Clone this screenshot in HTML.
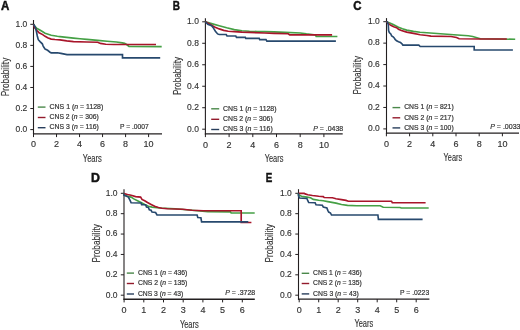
<!DOCTYPE html>
<html><head><meta charset="utf-8"><style>
html,body{margin:0;padding:0;background:#fff;}
body{width:520px;height:330px;overflow:hidden;}
svg{display:block;font-family:"Liberation Sans", sans-serif;will-change:transform;}
text{stroke:#333;stroke-width:0.15px;}
text.b{stroke:#111;stroke-width:0.45px;}
text.s{stroke-width:0.2px;}
</style></head><body>
<svg width="520" height="330" viewBox="0 0 520 330">
<rect width="520" height="330" fill="#fff"/>
<text transform="translate(0.9,10.3) scale(0.97,1)" x="0" y="0" font-size="11.9" font-weight="bold" fill="#111" class="b">A</text>
<line x1="33.5" y1="20" x2="33.5" y2="134.5" stroke="#231f20" stroke-width="1.1"/>
<line x1="32.95" y1="133.9" x2="162" y2="133.9" stroke="#231f20" stroke-width="1.4"/>
<line x1="30.3" y1="129.6" x2="33.5" y2="129.6" stroke="#231f20" stroke-width="1"/>
<text x="27.3" y="131.95" text-anchor="end" font-size="9.2" fill="#333" textLength="11.8" lengthAdjust="spacingAndGlyphs">0.0</text>
<line x1="30.3" y1="108.54" x2="33.5" y2="108.54" stroke="#231f20" stroke-width="1"/>
<text x="27.3" y="110.89" text-anchor="end" font-size="9.2" fill="#333" textLength="11.8" lengthAdjust="spacingAndGlyphs">0.2</text>
<line x1="30.3" y1="87.48" x2="33.5" y2="87.48" stroke="#231f20" stroke-width="1"/>
<text x="27.3" y="89.83" text-anchor="end" font-size="9.2" fill="#333" textLength="11.8" lengthAdjust="spacingAndGlyphs">0.4</text>
<line x1="30.3" y1="66.42" x2="33.5" y2="66.42" stroke="#231f20" stroke-width="1"/>
<text x="27.3" y="68.77" text-anchor="end" font-size="9.2" fill="#333" textLength="11.8" lengthAdjust="spacingAndGlyphs">0.6</text>
<line x1="30.3" y1="45.36" x2="33.5" y2="45.36" stroke="#231f20" stroke-width="1"/>
<text x="27.3" y="47.71" text-anchor="end" font-size="9.2" fill="#333" textLength="11.8" lengthAdjust="spacingAndGlyphs">0.8</text>
<line x1="30.3" y1="24.3" x2="33.5" y2="24.3" stroke="#231f20" stroke-width="1"/>
<text x="27.3" y="26.65" text-anchor="end" font-size="9.2" fill="#333" textLength="11.8" lengthAdjust="spacingAndGlyphs">1.0</text>
<line x1="33.5" y1="133.9" x2="33.5" y2="137.1" stroke="#231f20" stroke-width="1"/>
<text x="33.5" y="147.4" text-anchor="middle" font-size="9" fill="#333">0</text>
<line x1="56.52" y1="133.9" x2="56.52" y2="137.1" stroke="#231f20" stroke-width="1"/>
<text x="56.52" y="147.4" text-anchor="middle" font-size="9" fill="#333">2</text>
<line x1="79.54" y1="133.9" x2="79.54" y2="137.1" stroke="#231f20" stroke-width="1"/>
<text x="79.54" y="147.4" text-anchor="middle" font-size="9" fill="#333">4</text>
<line x1="102.56" y1="133.9" x2="102.56" y2="137.1" stroke="#231f20" stroke-width="1"/>
<text x="102.56" y="147.4" text-anchor="middle" font-size="9" fill="#333">6</text>
<line x1="125.58" y1="133.9" x2="125.58" y2="137.1" stroke="#231f20" stroke-width="1"/>
<text x="125.58" y="147.4" text-anchor="middle" font-size="9" fill="#333">8</text>
<line x1="148.6" y1="133.9" x2="148.6" y2="137.1" stroke="#231f20" stroke-width="1"/>
<text x="148.6" y="147.4" text-anchor="middle" font-size="9" fill="#333">10</text>
<text x="82.8" y="162.2" font-size="10.2" fill="#333" textLength="19" lengthAdjust="spacingAndGlyphs">Years</text>
<text transform="translate(8.7,96.3) rotate(-90)" x="0" y="0" font-size="11" fill="#333" textLength="38.6" lengthAdjust="spacingAndGlyphs">Probability</text>
<line x1="37.8" y1="107.1" x2="45.5" y2="107.1" stroke="#4a884a" stroke-width="1.4"/>
<text x="49.6" y="108.8" font-size="7" fill="#333" class="s" textLength="53.7" lengthAdjust="spacingAndGlyphs">CNS 1 (<tspan font-style="italic">n</tspan> = 1128)</text>
<line x1="37.8" y1="117.5" x2="45.5" y2="117.5" stroke="#931a2c" stroke-width="1.4"/>
<text x="49.6" y="119.2" font-size="7" fill="#333" class="s" textLength="49.2" lengthAdjust="spacingAndGlyphs">CNS 2 (<tspan font-style="italic">n</tspan> = 306)</text>
<line x1="37.8" y1="127.7" x2="45.5" y2="127.7" stroke="#283e5c" stroke-width="1.4"/>
<text x="49.6" y="129.4" font-size="7" fill="#333" class="s" textLength="49.2" lengthAdjust="spacingAndGlyphs">CNS 3 (<tspan font-style="italic">n</tspan> = 116)</text>
<text x="120" y="128.8" font-size="7" fill="#333" class="s" textLength="28.8" lengthAdjust="spacingAndGlyphs">P = .0007</text>
<polyline points="33.5,24.3 34.5,25.8 36.6,28.3 40.3,30.3 45.1,33.2 51.2,35.2 57.3,36.3 60,36.6 66.7,37.4 73.5,38.1 80,38.8 86.9,39.4 97.7,40.4 107.1,41.3 116.5,42 122.3,42.9 124.6,43.4 127,44.8 129,46.5 161.7,46.6" fill="none" stroke="#45a045" stroke-width="1.65" stroke-linejoin="miter"/>
<polyline points="33.5,24.3 34.6,27.6 36.6,30.3 39.1,32.7 42.7,34.6 45.1,36.3 47.6,37.8 51.2,39.1 55,39.5 60,39.9 66.7,40.9 73.5,41.6 86.9,42 97.7,42.3 100.4,43.4 105.8,44.2 113.8,44.5 156,44.5" fill="none" stroke="#a8152a" stroke-width="1.65" stroke-linejoin="miter"/>
<polyline points="33.5,24.3 35.4,27.3 36.3,31 37.3,36 38.3,39.7 40.3,41.8 42.3,43.8 43.2,46.1 43.9,47.3 45.1,49.1 47.6,50.3 50,52.2 51.2,52.8 57.3,52.8 60.9,53.4 67,54.6 122.5,54.6 122.5,57.9 160.2,57.9" fill="none" stroke="#27496e" stroke-width="1.65" stroke-linejoin="miter"/>
<text transform="translate(172.7,10.3) scale(0.84,1)" x="0" y="0" font-size="11.9" font-weight="bold" fill="#111" class="b">B</text>
<line x1="205.4" y1="18.2" x2="205.4" y2="134.5" stroke="#231f20" stroke-width="1.1"/>
<line x1="204.85" y1="133.9" x2="342.7" y2="133.9" stroke="#231f20" stroke-width="1.4"/>
<line x1="202.2" y1="129.2" x2="205.4" y2="129.2" stroke="#231f20" stroke-width="1"/>
<text x="198.9" y="131.55" text-anchor="end" font-size="9.2" fill="#333" textLength="11.8" lengthAdjust="spacingAndGlyphs">0.0</text>
<line x1="202.2" y1="107.72" x2="205.4" y2="107.72" stroke="#231f20" stroke-width="1"/>
<text x="198.9" y="110.07" text-anchor="end" font-size="9.2" fill="#333" textLength="11.8" lengthAdjust="spacingAndGlyphs">0.2</text>
<line x1="202.2" y1="86.24" x2="205.4" y2="86.24" stroke="#231f20" stroke-width="1"/>
<text x="198.9" y="88.59" text-anchor="end" font-size="9.2" fill="#333" textLength="11.8" lengthAdjust="spacingAndGlyphs">0.4</text>
<line x1="202.2" y1="64.76" x2="205.4" y2="64.76" stroke="#231f20" stroke-width="1"/>
<text x="198.9" y="67.11" text-anchor="end" font-size="9.2" fill="#333" textLength="11.8" lengthAdjust="spacingAndGlyphs">0.6</text>
<line x1="202.2" y1="43.28" x2="205.4" y2="43.28" stroke="#231f20" stroke-width="1"/>
<text x="198.9" y="45.63" text-anchor="end" font-size="9.2" fill="#333" textLength="11.8" lengthAdjust="spacingAndGlyphs">0.8</text>
<line x1="202.2" y1="21.8" x2="205.4" y2="21.8" stroke="#231f20" stroke-width="1"/>
<text x="198.9" y="24.15" text-anchor="end" font-size="9.2" fill="#333" textLength="11.8" lengthAdjust="spacingAndGlyphs">1.0</text>
<line x1="205.4" y1="133.9" x2="205.4" y2="137.1" stroke="#231f20" stroke-width="1"/>
<text x="205.4" y="147.6" text-anchor="middle" font-size="9" fill="#333">0</text>
<line x1="229.1" y1="133.9" x2="229.1" y2="137.1" stroke="#231f20" stroke-width="1"/>
<text x="229.1" y="147.6" text-anchor="middle" font-size="9" fill="#333">2</text>
<line x1="252.8" y1="133.9" x2="252.8" y2="137.1" stroke="#231f20" stroke-width="1"/>
<text x="252.8" y="147.6" text-anchor="middle" font-size="9" fill="#333">4</text>
<line x1="276.5" y1="133.9" x2="276.5" y2="137.1" stroke="#231f20" stroke-width="1"/>
<text x="276.5" y="147.6" text-anchor="middle" font-size="9" fill="#333">6</text>
<line x1="300.2" y1="133.9" x2="300.2" y2="137.1" stroke="#231f20" stroke-width="1"/>
<text x="300.2" y="147.6" text-anchor="middle" font-size="9" fill="#333">8</text>
<line x1="323.9" y1="133.9" x2="323.9" y2="137.1" stroke="#231f20" stroke-width="1"/>
<text x="323.9" y="147.6" text-anchor="middle" font-size="9" fill="#333">10</text>
<text x="264.7" y="162.2" font-size="10.2" fill="#333" textLength="18.7" lengthAdjust="spacingAndGlyphs">Years</text>
<text transform="translate(180.5,95.1) rotate(-90)" x="0" y="0" font-size="11" fill="#333" textLength="38.2" lengthAdjust="spacingAndGlyphs">Probability</text>
<line x1="211.2" y1="108.8" x2="219.2" y2="108.8" stroke="#4a884a" stroke-width="1.4"/>
<text x="223" y="110.5" font-size="7" fill="#333" class="s" textLength="53.5" lengthAdjust="spacingAndGlyphs">CNS 1 (<tspan font-style="italic">n</tspan> = 1128)</text>
<line x1="211.2" y1="119.3" x2="219.2" y2="119.3" stroke="#931a2c" stroke-width="1.4"/>
<text x="223" y="121" font-size="7" fill="#333" class="s" textLength="49.7" lengthAdjust="spacingAndGlyphs">CNS 2 (<tspan font-style="italic">n</tspan> = 306)</text>
<line x1="211.2" y1="129.5" x2="219.2" y2="129.5" stroke="#283e5c" stroke-width="1.4"/>
<text x="223" y="131.2" font-size="7" fill="#333" class="s" textLength="49.7" lengthAdjust="spacingAndGlyphs">CNS 3 (<tspan font-style="italic">n</tspan> = 116)</text>
<text x="313.2" y="130.8" font-size="7" fill="#333" class="s" textLength="30" lengthAdjust="spacingAndGlyphs"><tspan font-style="italic">P</tspan> = .0438</text>
<polyline points="205.4,21.8 211.6,23.6 219.2,25.8 226.7,27.8 234.3,29.6 241.9,30.7 249.5,31.2 257,31.5 264.6,31.6 274,31.9 285.2,32.4 300.3,33 306.4,33.9 315.5,34.9 316.2,36.5 337.4,36.5" fill="none" stroke="#45a045" stroke-width="1.65" stroke-linejoin="miter"/>
<polyline points="205.4,21.8 210,24.3 214.6,26.9 219.2,28.9 223.7,30.4 228.2,31.2 234.3,31.6 241.9,32.1 249.5,32.4 264.6,33 274,33.4 288.2,33.8 289.7,34.9 332.1,34.9" fill="none" stroke="#a8152a" stroke-width="1.65" stroke-linejoin="miter"/>
<polyline points="205.4,21.8 207.8,24.3 211.6,25.8 213,27.4 215.4,31.2 217.6,33.9 219.2,34.5 226.2,34.5 227,36 235.8,36 236.5,37.3 245.3,37.3 245.8,38.4 259.2,38.4 259.7,39.6 266,39.6 266.9,41.1 335.9,41.1" fill="none" stroke="#27496e" stroke-width="1.65" stroke-linejoin="miter"/>
<text transform="translate(353.31,10.2) scale(0.96,1)" x="0" y="0" font-size="11.9" font-weight="bold" fill="#111" class="b">C</text>
<line x1="386.5" y1="18.1" x2="386.5" y2="133.7" stroke="#231f20" stroke-width="1.1"/>
<line x1="385.95" y1="133.1" x2="519" y2="133.1" stroke="#231f20" stroke-width="1.4"/>
<line x1="383.3" y1="128.9" x2="386.5" y2="128.9" stroke="#231f20" stroke-width="1"/>
<text x="379.8" y="131.25" text-anchor="end" font-size="9.2" fill="#333" textLength="11.8" lengthAdjust="spacingAndGlyphs">0.0</text>
<line x1="383.3" y1="107.46" x2="386.5" y2="107.46" stroke="#231f20" stroke-width="1"/>
<text x="379.8" y="109.81" text-anchor="end" font-size="9.2" fill="#333" textLength="11.8" lengthAdjust="spacingAndGlyphs">0.2</text>
<line x1="383.3" y1="86.02" x2="386.5" y2="86.02" stroke="#231f20" stroke-width="1"/>
<text x="379.8" y="88.37" text-anchor="end" font-size="9.2" fill="#333" textLength="11.8" lengthAdjust="spacingAndGlyphs">0.4</text>
<line x1="383.3" y1="64.58" x2="386.5" y2="64.58" stroke="#231f20" stroke-width="1"/>
<text x="379.8" y="66.93" text-anchor="end" font-size="9.2" fill="#333" textLength="11.8" lengthAdjust="spacingAndGlyphs">0.6</text>
<line x1="383.3" y1="43.14" x2="386.5" y2="43.14" stroke="#231f20" stroke-width="1"/>
<text x="379.8" y="45.49" text-anchor="end" font-size="9.2" fill="#333" textLength="11.8" lengthAdjust="spacingAndGlyphs">0.8</text>
<line x1="383.3" y1="21.7" x2="386.5" y2="21.7" stroke="#231f20" stroke-width="1"/>
<text x="379.8" y="24.05" text-anchor="end" font-size="9.2" fill="#333" textLength="11.8" lengthAdjust="spacingAndGlyphs">1.0</text>
<line x1="386.4" y1="133.1" x2="386.4" y2="136.3" stroke="#231f20" stroke-width="1"/>
<text x="386.4" y="146.8" text-anchor="middle" font-size="9" fill="#333">0</text>
<line x1="409.6" y1="133.1" x2="409.6" y2="136.3" stroke="#231f20" stroke-width="1"/>
<text x="409.6" y="146.8" text-anchor="middle" font-size="9" fill="#333">2</text>
<line x1="432.8" y1="133.1" x2="432.8" y2="136.3" stroke="#231f20" stroke-width="1"/>
<text x="432.8" y="146.8" text-anchor="middle" font-size="9" fill="#333">4</text>
<line x1="456" y1="133.1" x2="456" y2="136.3" stroke="#231f20" stroke-width="1"/>
<text x="456" y="146.8" text-anchor="middle" font-size="9" fill="#333">6</text>
<line x1="479.2" y1="133.1" x2="479.2" y2="136.3" stroke="#231f20" stroke-width="1"/>
<text x="479.2" y="146.8" text-anchor="middle" font-size="9" fill="#333">8</text>
<line x1="502.4" y1="133.1" x2="502.4" y2="136.3" stroke="#231f20" stroke-width="1"/>
<text x="502.4" y="146.8" text-anchor="middle" font-size="9" fill="#333">10</text>
<text x="443.6" y="161.3" font-size="10.2" fill="#333" textLength="18.5" lengthAdjust="spacingAndGlyphs">Years</text>
<text transform="translate(361.3,94.4) rotate(-90)" x="0" y="0" font-size="11" fill="#333" textLength="38.5" lengthAdjust="spacingAndGlyphs">Probability</text>
<line x1="392.5" y1="107.6" x2="400.2" y2="107.6" stroke="#4a884a" stroke-width="1.4"/>
<text x="404.2" y="109.3" font-size="7" fill="#333" class="s" textLength="49.5" lengthAdjust="spacingAndGlyphs">CNS 1 (<tspan font-style="italic">n</tspan> = 821)</text>
<line x1="392.5" y1="117.8" x2="400.2" y2="117.8" stroke="#931a2c" stroke-width="1.4"/>
<text x="404.2" y="119.5" font-size="7" fill="#333" class="s" textLength="49.5" lengthAdjust="spacingAndGlyphs">CNS 2 (<tspan font-style="italic">n</tspan> = 217)</text>
<line x1="392.5" y1="127.9" x2="400.2" y2="127.9" stroke="#283e5c" stroke-width="1.4"/>
<text x="404.2" y="129.6" font-size="7" fill="#333" class="s" textLength="49.5" lengthAdjust="spacingAndGlyphs">CNS 3 (<tspan font-style="italic">n</tspan> = 100)</text>
<text x="490.2" y="129.4" font-size="7" fill="#333" class="s" textLength="30.3" lengthAdjust="spacingAndGlyphs"><tspan font-style="italic">P</tspan> = .0033</text>
<polyline points="386.4,21.7 389.8,22.9 392.7,24.3 395.6,25.8 398.5,27.2 402.4,28.7 406.7,30.1 413.5,31.4 420,32.2 426.9,32.8 440.4,33.8 453.8,34.8 468.2,35.8 472.7,36.5 480.3,38.7 515.2,39.3" fill="none" stroke="#45a045" stroke-width="1.65" stroke-linejoin="miter"/>
<polyline points="386.4,21.7 388.8,23.8 390.8,25.3 393.7,26.7 396.6,27.7 398.5,29.2 401.4,30.6 406.7,32.1 413.5,33.4 420.2,34.8 426.9,35.5 431,36.1 451.1,36.5 456.5,37.5 459.2,38.8 480.3,39 506.8,39" fill="none" stroke="#a8152a" stroke-width="1.65" stroke-linejoin="miter"/>
<polyline points="386.4,21.7 387.4,21.9 388.3,24.8 388.6,30.6 389.3,32.6 390.8,34 391.7,36 393.2,36.9 394.2,37.9 395.1,39.4 396.6,40.8 398.5,41.8 400.5,42.5 401.9,43.7 402.9,45.1 418.8,45.1 420.2,46.5 474.2,46.5 474.2,50 512.9,50" fill="none" stroke="#27496e" stroke-width="1.65" stroke-linejoin="miter"/>
<text transform="translate(90.88,182) scale(1.04,1)" x="0" y="0" font-size="11.9" font-weight="bold" fill="#111" class="b">D</text>
<line x1="124" y1="189.2" x2="124" y2="299.8" stroke="#231f20" stroke-width="1.1"/>
<line x1="123.45" y1="299.2" x2="254.8" y2="299.2" stroke="#231f20" stroke-width="1.4"/>
<line x1="120.8" y1="295.2" x2="124" y2="295.2" stroke="#231f20" stroke-width="1"/>
<text x="117.6" y="297.55" text-anchor="end" font-size="9.2" fill="#333" textLength="11.8" lengthAdjust="spacingAndGlyphs">0.0</text>
<line x1="120.8" y1="274.82" x2="124" y2="274.82" stroke="#231f20" stroke-width="1"/>
<text x="117.6" y="277.17" text-anchor="end" font-size="9.2" fill="#333" textLength="11.8" lengthAdjust="spacingAndGlyphs">0.2</text>
<line x1="120.8" y1="254.44" x2="124" y2="254.44" stroke="#231f20" stroke-width="1"/>
<text x="117.6" y="256.79" text-anchor="end" font-size="9.2" fill="#333" textLength="11.8" lengthAdjust="spacingAndGlyphs">0.4</text>
<line x1="120.8" y1="234.06" x2="124" y2="234.06" stroke="#231f20" stroke-width="1"/>
<text x="117.6" y="236.41" text-anchor="end" font-size="9.2" fill="#333" textLength="11.8" lengthAdjust="spacingAndGlyphs">0.6</text>
<line x1="120.8" y1="213.68" x2="124" y2="213.68" stroke="#231f20" stroke-width="1"/>
<text x="117.6" y="216.03" text-anchor="end" font-size="9.2" fill="#333" textLength="11.8" lengthAdjust="spacingAndGlyphs">0.8</text>
<line x1="120.8" y1="193.3" x2="124" y2="193.3" stroke="#231f20" stroke-width="1"/>
<text x="117.6" y="195.65" text-anchor="end" font-size="9.2" fill="#333" textLength="11.8" lengthAdjust="spacingAndGlyphs">1.0</text>
<line x1="124.1" y1="299.2" x2="124.1" y2="302.4" stroke="#231f20" stroke-width="1"/>
<text x="124.1" y="312.8" text-anchor="middle" font-size="9" fill="#333">0</text>
<line x1="143.8" y1="299.2" x2="143.8" y2="302.4" stroke="#231f20" stroke-width="1"/>
<text x="143.8" y="312.8" text-anchor="middle" font-size="9" fill="#333">1</text>
<line x1="163.5" y1="299.2" x2="163.5" y2="302.4" stroke="#231f20" stroke-width="1"/>
<text x="163.5" y="312.8" text-anchor="middle" font-size="9" fill="#333">2</text>
<line x1="183.2" y1="299.2" x2="183.2" y2="302.4" stroke="#231f20" stroke-width="1"/>
<text x="183.2" y="312.8" text-anchor="middle" font-size="9" fill="#333">3</text>
<line x1="202.9" y1="299.2" x2="202.9" y2="302.4" stroke="#231f20" stroke-width="1"/>
<text x="202.9" y="312.8" text-anchor="middle" font-size="9" fill="#333">4</text>
<line x1="222.6" y1="299.2" x2="222.6" y2="302.4" stroke="#231f20" stroke-width="1"/>
<text x="222.6" y="312.8" text-anchor="middle" font-size="9" fill="#333">5</text>
<line x1="242.3" y1="299.2" x2="242.3" y2="302.4" stroke="#231f20" stroke-width="1"/>
<text x="242.3" y="312.8" text-anchor="middle" font-size="9" fill="#333">6</text>
<text x="179.9" y="327.7" font-size="10.2" fill="#333" textLength="18.9" lengthAdjust="spacingAndGlyphs">Years</text>
<text transform="translate(99.7,262.4) rotate(-90)" x="0" y="0" font-size="11" fill="#333" textLength="38.2" lengthAdjust="spacingAndGlyphs">Probability</text>
<line x1="126.8" y1="273.1" x2="134" y2="273.1" stroke="#4a884a" stroke-width="1.4"/>
<text x="138" y="274.8" font-size="7" fill="#333" class="s" textLength="49.4" lengthAdjust="spacingAndGlyphs">CNS 1 (<tspan font-style="italic">n</tspan> = 436)</text>
<line x1="126.8" y1="283.5" x2="134" y2="283.5" stroke="#931a2c" stroke-width="1.4"/>
<text x="138" y="285.2" font-size="7" fill="#333" class="s" textLength="49.4" lengthAdjust="spacingAndGlyphs">CNS 2 (<tspan font-style="italic">n</tspan> = 135)</text>
<line x1="126.8" y1="294" x2="134" y2="294" stroke="#283e5c" stroke-width="1.4"/>
<text x="138" y="295.7" font-size="7" fill="#333" class="s" textLength="45.2" lengthAdjust="spacingAndGlyphs">CNS 3 (<tspan font-style="italic">n</tspan> = 43)</text>
<text x="225.2" y="294.9" font-size="7" fill="#333" class="s" textLength="30" lengthAdjust="spacingAndGlyphs"><tspan font-style="italic">P</tspan> = .3728</text>
<polyline points="124,193.5 124,194.4 127.5,196.2 131.1,197.1 133.8,198.9 137.5,200.7 141.1,202.5 144.7,204.4 148.4,206.2 152,207.1 159.9,208 175,208.8 192,210.3 207.7,211.6 230.4,211.9 231.2,213 254.7,213" fill="none" stroke="#45a045" stroke-width="1.65" stroke-linejoin="miter"/>
<polyline points="124,193.5 127.5,194.5 131.1,195.3 135.6,196.6 140.6,197.1 142,199.4 144.7,200.7 147.5,202.5 151.1,204.4 154.7,206.2 158.4,207.5 162,208.2 167.5,208.7 175,209 182.6,209.2 192,210.2 203.2,210.7 241.2,210.7 241.2,222.5 251.4,222.5" fill="none" stroke="#a8152a" stroke-width="1.65" stroke-linejoin="miter"/>
<polyline points="124,193.5 124,195.3 128.4,197.1 130.2,200.7 131.1,202.8 141.1,203 141.6,204.6 145.6,204.8 146.5,207.1 148.4,207.5 149.3,209.8 151.1,210.3 152,212.1 155.6,212.5 157,215 197.1,215 197.8,217.5 200.9,217.8 201.6,221.8 248.3,221.8" fill="none" stroke="#27496e" stroke-width="1.65" stroke-linejoin="miter"/>
<text transform="translate(265.71,182.3) scale(0.82,1)" x="0" y="0" font-size="11.9" font-weight="bold" fill="#111" class="b">E</text>
<line x1="298.5" y1="189.2" x2="298.5" y2="299.7" stroke="#231f20" stroke-width="1.1"/>
<line x1="297.95" y1="299.1" x2="429.4" y2="299.1" stroke="#231f20" stroke-width="1.4"/>
<line x1="295.3" y1="295.2" x2="298.5" y2="295.2" stroke="#231f20" stroke-width="1"/>
<text x="291.8" y="297.55" text-anchor="end" font-size="9.2" fill="#333" textLength="11.8" lengthAdjust="spacingAndGlyphs">0.0</text>
<line x1="295.3" y1="274.82" x2="298.5" y2="274.82" stroke="#231f20" stroke-width="1"/>
<text x="291.8" y="277.17" text-anchor="end" font-size="9.2" fill="#333" textLength="11.8" lengthAdjust="spacingAndGlyphs">0.2</text>
<line x1="295.3" y1="254.44" x2="298.5" y2="254.44" stroke="#231f20" stroke-width="1"/>
<text x="291.8" y="256.79" text-anchor="end" font-size="9.2" fill="#333" textLength="11.8" lengthAdjust="spacingAndGlyphs">0.4</text>
<line x1="295.3" y1="234.06" x2="298.5" y2="234.06" stroke="#231f20" stroke-width="1"/>
<text x="291.8" y="236.41" text-anchor="end" font-size="9.2" fill="#333" textLength="11.8" lengthAdjust="spacingAndGlyphs">0.6</text>
<line x1="295.3" y1="213.68" x2="298.5" y2="213.68" stroke="#231f20" stroke-width="1"/>
<text x="291.8" y="216.03" text-anchor="end" font-size="9.2" fill="#333" textLength="11.8" lengthAdjust="spacingAndGlyphs">0.8</text>
<line x1="295.3" y1="193.3" x2="298.5" y2="193.3" stroke="#231f20" stroke-width="1"/>
<text x="291.8" y="195.65" text-anchor="end" font-size="9.2" fill="#333" textLength="11.8" lengthAdjust="spacingAndGlyphs">1.0</text>
<line x1="299.2" y1="299.1" x2="299.2" y2="302.3" stroke="#231f20" stroke-width="1"/>
<text x="299.2" y="312.8" text-anchor="middle" font-size="9" fill="#333">0</text>
<line x1="318.7" y1="299.1" x2="318.7" y2="302.3" stroke="#231f20" stroke-width="1"/>
<text x="318.7" y="312.8" text-anchor="middle" font-size="9" fill="#333">1</text>
<line x1="338.2" y1="299.1" x2="338.2" y2="302.3" stroke="#231f20" stroke-width="1"/>
<text x="338.2" y="312.8" text-anchor="middle" font-size="9" fill="#333">2</text>
<line x1="357.7" y1="299.1" x2="357.7" y2="302.3" stroke="#231f20" stroke-width="1"/>
<text x="357.7" y="312.8" text-anchor="middle" font-size="9" fill="#333">3</text>
<line x1="377.2" y1="299.1" x2="377.2" y2="302.3" stroke="#231f20" stroke-width="1"/>
<text x="377.2" y="312.8" text-anchor="middle" font-size="9" fill="#333">4</text>
<line x1="396.7" y1="299.1" x2="396.7" y2="302.3" stroke="#231f20" stroke-width="1"/>
<text x="396.7" y="312.8" text-anchor="middle" font-size="9" fill="#333">5</text>
<line x1="416.2" y1="299.1" x2="416.2" y2="302.3" stroke="#231f20" stroke-width="1"/>
<text x="416.2" y="312.8" text-anchor="middle" font-size="9" fill="#333">6</text>
<text x="354.4" y="327.2" font-size="10.2" fill="#333" textLength="18.8" lengthAdjust="spacingAndGlyphs">Years</text>
<text transform="translate(273.3,262.4) rotate(-90)" x="0" y="0" font-size="11" fill="#333" textLength="38.2" lengthAdjust="spacingAndGlyphs">Probability</text>
<line x1="301.7" y1="273.3" x2="309.2" y2="273.3" stroke="#4a884a" stroke-width="1.4"/>
<text x="313.1" y="275" font-size="7" fill="#333" class="s" textLength="48.7" lengthAdjust="spacingAndGlyphs">CNS 1 (<tspan font-style="italic">n</tspan> = 436)</text>
<line x1="301.7" y1="283.5" x2="309.2" y2="283.5" stroke="#931a2c" stroke-width="1.4"/>
<text x="313.1" y="285.2" font-size="7" fill="#333" class="s" textLength="48.7" lengthAdjust="spacingAndGlyphs">CNS 2 (<tspan font-style="italic">n</tspan> = 135)</text>
<line x1="301.7" y1="293.9" x2="309.2" y2="293.9" stroke="#283e5c" stroke-width="1.4"/>
<text x="313.1" y="295.6" font-size="7" fill="#333" class="s" textLength="45.7" lengthAdjust="spacingAndGlyphs">CNS 3 (<tspan font-style="italic">n</tspan> = 43)</text>
<text x="400" y="295" font-size="7" fill="#333" class="s" textLength="29.2" lengthAdjust="spacingAndGlyphs">P = .0223</text>
<polyline points="298.5,193.3 298.5,194.8 301.5,196.2 306.9,197.1 310.5,197.8 313.3,199.4 318.7,200.3 323.3,200.7 327.8,201.6 336,203.1 341.5,204.5 347.5,205.4 356.6,205.7 380.2,205.7 383.2,207.2 399.9,207.5 401.4,208 428.7,208" fill="none" stroke="#45a045" stroke-width="1.65" stroke-linejoin="miter"/>
<polyline points="298.5,193.3 304.2,193.3 305.1,193.9 307.8,194.8 312.4,195.5 318.7,196.2 323.3,196.6 324.2,197.5 332.4,197.8 336,198.7 341.5,199.6 346,200.4 348.3,201.2 391.5,201.2 392.3,202.7 425.6,202.7" fill="none" stroke="#a8152a" stroke-width="1.65" stroke-linejoin="miter"/>
<polyline points="298.5,193.3 298.5,195.7 299.6,198 306.9,198.5 307.8,200.7 308.7,202.5 315.1,202.7 316,204.8 322.4,205.3 323.3,207.1 326.9,208 327.8,210.3 328.7,212.1 330.5,213 331.5,215 377.9,215 378.4,219.3 422.6,219.3" fill="none" stroke="#27496e" stroke-width="1.65" stroke-linejoin="miter"/>
</svg>
</body></html>
